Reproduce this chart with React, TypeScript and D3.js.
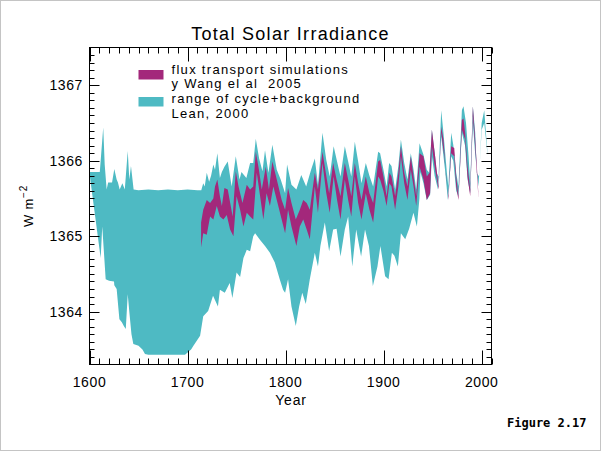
import React from "react";
import * as d3 from "d3";

const cyanUpper: [number, number][] = [
  [1600, 1365.85], [1610.5, 1365.85], [1614, 1366.44], [1615.5, 1365.95], [1617.5, 1365.62],
  [1619, 1365.71], [1623, 1365.71], [1625.3, 1365.89], [1627.7, 1365.75], [1629, 1365.71],
  [1630.8, 1365.62], [1633.5, 1365.7], [1636, 1365.62], [1639, 1366.13], [1640.6, 1365.75],
  [1642.3, 1365.93], [1645, 1365.62], [1650, 1365.61], [1660, 1365.62], [1670, 1365.61],
  [1680, 1365.62], [1690, 1365.61], [1700, 1365.62], [1710, 1365.61], [1714, 1365.61],
  [1716, 1365.7], [1717.5, 1365.66], [1719.6, 1365.84], [1722, 1365.72], [1724, 1365.8],
  [1726.3, 1365.95], [1728, 1365.88], [1730.4, 1366.1], [1733, 1365.77], [1735, 1365.85],
  [1737.6, 1365.92], [1741, 1365.99], [1745, 1365.66], [1749.2, 1366.06], [1753, 1365.75],
  [1755, 1365.85], [1760, 1365.77], [1763.8, 1365.97], [1767, 1365.97], [1769.6, 1366.29],
  [1773, 1366.03], [1776.4, 1365.86], [1779, 1366.14], [1782.5, 1365.84], [1786.5, 1366.21],
  [1791, 1365.88], [1795, 1365.75], [1799.5, 1365.57], [1801.5, 1365.95], [1806, 1365.68],
  [1811, 1365.62], [1816, 1365.81], [1821, 1365.66], [1826, 1365.88], [1829.8, 1366.03],
  [1833, 1365.68], [1837.6, 1366.37], [1841.5, 1366.01], [1845, 1365.79], [1849, 1366.19],
  [1852.5, 1365.99], [1856, 1365.79], [1860.4, 1366.19], [1863.8, 1365.99], [1867, 1365.79],
  [1870.6, 1366.25], [1874, 1365.99], [1877.4, 1365.7], [1881.8, 1365.97], [1885.5, 1365.8],
  [1889.3, 1365.66], [1894.4, 1366.12], [1896.4, 1366.1], [1899.8, 1365.88], [1903, 1365.66],
  [1905.6, 1365.97], [1908, 1365.93], [1911.7, 1365.62], [1915, 1365.93], [1917.6, 1366.28],
  [1921, 1365.97], [1924.3, 1365.75], [1927.7, 1366.1], [1930.5, 1365.88], [1933.2, 1365.62],
  [1936.6, 1366.23], [1940.6, 1366.08], [1944, 1365.88], [1946.5, 1365.84], [1949.2, 1366.41],
  [1952.5, 1366.06], [1954, 1365.84], [1956, 1365.79], [1958.7, 1366.67], [1961, 1366.37],
  [1964.5, 1365.84], [1966, 1365.66], [1968.9, 1366.37], [1971, 1366.21], [1974, 1365.84],
  [1976.3, 1365.66], [1979.8, 1366.67], [1981.4, 1366.72], [1984, 1366.5], [1986.6, 1366.06],
  [1988.3, 1365.7], [1991, 1366.72], [1993.4, 1366.37], [1995, 1365.84], [1997.4, 1365.79],
  [2000, 1366.5], [2002.6, 1366.67], [2004.6, 1366.32], [2006, 1366.1],
];

const cyanLower: [number, number][] = [
  [1600, 1365.83], [1611.4, 1364.71], [1613, 1365.13], [1616.5, 1364.43], [1620, 1364.41],
  [1625, 1364.4], [1625.3, 1364.35], [1627.7, 1364.3], [1630.5, 1363.9], [1633, 1363.86],
  [1635, 1363.81], [1637, 1363.77], [1639, 1364.23], [1640.6, 1364.0], [1642.8, 1363.7],
  [1644.7, 1363.57], [1650, 1363.55], [1654, 1363.5], [1656.6, 1363.44], [1660, 1363.43],
  [1680, 1363.43], [1697.4, 1363.43], [1703.6, 1363.5], [1706, 1363.55], [1712.8, 1363.68],
  [1716, 1363.94], [1721, 1364.01], [1726, 1364.21], [1731, 1364.07], [1733, 1364.29],
  [1738, 1364.25], [1743, 1364.38], [1745.7, 1364.18], [1750, 1364.52], [1753.6, 1364.46],
  [1757, 1364.71], [1760.4, 1364.82], [1763.8, 1364.8], [1767, 1365.0], [1768.9, 1365.04],
  [1774, 1364.95], [1779, 1364.87], [1784, 1364.78], [1789, 1364.65], [1794, 1364.43],
  [1797.4, 1364.29], [1799.5, 1364.25], [1802.5, 1364.43], [1806, 1364.07], [1810.4, 1363.81],
  [1813.8, 1364.07], [1817, 1364.25], [1820.6, 1364.1], [1824.7, 1364.43], [1829.8, 1364.78],
  [1833, 1364.6], [1835.5, 1364.87], [1840, 1365.18], [1844.4, 1364.8], [1848.5, 1365.09],
  [1852, 1365.1], [1856, 1364.73], [1860.4, 1365.09], [1863.8, 1365.26], [1868, 1364.6],
  [1872, 1365.09], [1877, 1364.73], [1881, 1365.09], [1885, 1364.87], [1889, 1364.34],
  [1893.7, 1364.6], [1896.7, 1364.87], [1901.5, 1364.47], [1905, 1364.43], [1908.4, 1364.78],
  [1911, 1364.74], [1914.5, 1364.6], [1917.6, 1365.04], [1922, 1364.96], [1926, 1365.1],
  [1930.4, 1365.31], [1933.9, 1365.13], [1936.5, 1365.5], [1937.5, 1365.85], [1940.6, 1365.7],
  [1944, 1365.48], [1947.4, 1365.55], [1949.2, 1366.06], [1952, 1365.8], [1955.4, 1365.62],
  [1958.7, 1366.32], [1962.6, 1365.88], [1965.5, 1365.48], [1968.9, 1366.06], [1971, 1366.0],
  [1974, 1365.6], [1976.3, 1365.53], [1979.8, 1366.37], [1983, 1366.2], [1985.6, 1365.75],
  [1988.3, 1365.57], [1991, 1366.5], [1993.4, 1366.08], [1996.7, 1365.66], [2000, 1366.41],
  [2002.6, 1366.5], [2004.6, 1366.25], [2006, 1366.08],
];

const magentaUpper: [number, number][] = [
  [1713.8, 1365.18], [1716, 1365.35], [1719.6, 1365.48], [1723, 1365.44], [1726.3, 1365.5],
  [1728, 1365.66], [1730.4, 1365.75], [1733, 1365.53], [1735, 1365.4], [1737.6, 1365.64],
  [1741, 1365.62], [1743.5, 1365.44], [1746, 1365.26], [1749.2, 1365.86], [1752, 1365.66],
  [1756, 1365.44], [1760.4, 1365.68], [1763.8, 1365.62], [1767, 1365.66], [1769.6, 1366.12],
  [1772.8, 1365.88], [1775.7, 1365.62], [1779.8, 1365.92], [1783, 1365.62], [1786.5, 1365.99],
  [1791, 1365.75], [1796, 1365.48], [1799.5, 1365.35], [1802.5, 1365.64], [1806, 1365.44],
  [1810.4, 1365.22], [1814.5, 1365.35], [1818, 1365.48], [1821.5, 1365.44], [1824.7, 1365.35],
  [1829.8, 1365.84], [1833, 1365.62], [1837.6, 1366.12], [1841, 1365.84], [1844.4, 1365.57],
  [1848.5, 1365.97], [1852, 1365.75], [1856, 1365.53], [1860.4, 1365.97], [1863.8, 1365.75],
  [1867, 1365.53], [1870.6, 1365.97], [1874, 1365.7], [1877.4, 1365.48], [1881.8, 1365.79],
  [1885.5, 1365.57], [1889.3, 1365.44], [1894.4, 1365.99], [1896.4, 1366.01], [1899.8, 1365.79],
  [1903, 1365.53], [1905.9, 1365.84], [1908, 1365.79], [1911.7, 1365.53], [1915, 1365.84],
  [1917.6, 1366.19], [1921, 1365.84], [1924.3, 1365.66], [1927.7, 1366.06], [1930.5, 1365.79],
  [1933.2, 1365.53], [1936.6, 1366.1], [1940.6, 1366.06], [1944, 1365.79], [1946.8, 1365.84],
  [1949.2, 1366.41], [1952.5, 1366.06], [1956, 1365.66], [1958.7, 1366.45], [1961, 1366.28],
  [1963.6, 1365.79], [1966, 1365.53], [1968.9, 1366.19], [1972, 1366.17], [1974, 1365.79],
  [1976.3, 1365.53], [1979.8, 1366.54], [1981.4, 1366.56], [1983.1, 1366.37], [1985.5, 1365.93],
  [1988.3, 1365.62], [1991, 1366.72], [1993.4, 1366.28], [1995.7, 1365.79], [1996.7, 1365.53],
];

const magentaLower: [number, number][] = [
  [1713.8, 1364.85], [1716, 1365.04], [1719.6, 1365.02], [1723, 1365.26], [1726.3, 1365.22],
  [1729.8, 1365.4], [1733, 1365.26], [1736.5, 1365.22], [1740, 1365.28], [1743.4, 1365.09],
  [1746.8, 1365.0], [1750, 1365.53], [1753.6, 1365.35], [1757, 1365.13], [1760.4, 1365.31],
  [1763.8, 1365.26], [1767, 1365.22], [1770.6, 1365.84], [1774, 1365.53], [1777.3, 1365.22],
  [1780.6, 1365.57], [1784, 1365.4], [1787.5, 1365.66], [1791, 1365.48], [1796, 1365.22],
  [1799.5, 1365.04], [1802.5, 1365.35], [1806, 1365.13], [1811, 1364.87], [1814.5, 1365.13],
  [1818, 1365.22], [1821.5, 1365.09], [1824.7, 1364.96], [1829.8, 1365.66], [1833, 1365.31],
  [1837.6, 1365.97], [1841.5, 1365.57], [1845, 1365.31], [1849, 1365.79], [1852.5, 1365.48],
  [1856, 1365.22], [1860.4, 1365.75], [1863.8, 1365.48], [1867, 1365.26], [1870.6, 1365.79],
  [1874, 1365.44], [1877.4, 1365.22], [1881.8, 1365.57], [1885.5, 1365.35], [1889.3, 1365.18],
  [1894.4, 1365.79], [1896.4, 1365.75], [1899.8, 1365.6], [1903, 1365.4], [1905.9, 1365.7],
  [1908, 1365.66], [1911.7, 1365.35], [1915, 1365.66], [1917.6, 1366.06], [1921, 1365.7],
  [1924.3, 1365.48], [1927.7, 1365.88], [1930.5, 1365.66], [1933.2, 1365.4], [1936.6, 1365.92],
  [1940.6, 1365.75], [1944, 1365.48], [1947.4, 1365.57], [1949.2, 1366.19], [1952.5, 1365.88],
  [1956, 1365.62], [1958.7, 1366.37], [1961.8, 1366.06], [1965.5, 1365.57], [1966, 1365.48],
  [1968.9, 1366.1], [1972, 1366.06], [1974, 1365.66], [1976.3, 1365.48], [1979.8, 1366.41],
  [1983.1, 1366.28], [1985.5, 1365.79], [1988.3, 1365.53], [1991, 1366.59], [1993.4, 1366.17],
  [1995.7, 1365.7], [1996.7, 1365.51],
];

const xMajorTicks = [1600, 1700, 1800, 1900, 2000];
const yMajorTicks = [1364, 1365, 1366, 1367];
const legendLabels = [
  ["flux transport simulations", "y Wang el al  2005"],
  ["range of cycle+background", "Lean, 2000"],
];

const CYAN = "#4EBAC3";
const MAGENTA = "#A3287B";
const FONT = "'Liberation Sans', Arial, sans-serif";

export default function App() {
  const W = 601, H = 451;
  const L = 89.5, R = 491.5, T = 47.5, B = 364.5;
  const x = d3.scaleLinear().domain([1600, 2010]).range([L, R]);
  const y = d3.scaleLinear().domain([1363.3, 1367.5]).range([B, T]);

  const line = d3.line<[number, number]>().x((d) => x(d[0])).y((d) => y(d[1]));
  const band = (up: [number, number][], lo: [number, number][]) =>
    (line(up.concat(lo.slice().reverse())) || "") + "Z";

  const xMinor = d3.range(1600, 2011, 10);
  const yMinor = d3.range(13634, 13675, 1).map((v) => v / 10);

  return (
    <svg width={W} height={H} style={{ position: "absolute", left: 0, top: 0 }}
      fontFamily={FONT}>
      <rect x={0} y={0} width={W} height={H} fill="#fff" />
      <rect x={0.5} y={0.5} width={W - 1} height={H - 1} fill="none" stroke="#c4c4c4" />

      <path d={band(cyanUpper, cyanLower)} fill={CYAN} />
      <path d={band(magentaUpper, magentaLower)} fill={MAGENTA} />

      {/* axes frame */}
      <rect x={L} y={T} width={R - L} height={B - T} fill="none" stroke="#000" strokeWidth={1} />
      {xMinor.map((v) => {
        const major = v % 100 === 0;
        const len = major ? 14 : 6;
        const px = Math.round(x(v)) + 0.5;
        return (
          <g key={"x" + v}>
            <line x1={px} x2={px} y1={B} y2={B - len} stroke="#000" />
            <line x1={px} x2={px} y1={T} y2={T + len} stroke="#000" />
          </g>
        );
      })}
      {yMinor.map((v) => {
        const major = Math.abs(v - Math.round(v)) < 1e-6;
        const len = major ? 10 : 5;
        const py = Math.round(y(v)) + 0.5;
        return (
          <g key={"y" + v}>
            <line x1={L} x2={L + len} y1={py} y2={py} stroke="#000" />
            <line x1={R} x2={R - len} y1={py} y2={py} stroke="#000" />
          </g>
        );
      })}
      {xMajorTicks.map((v) => (
        <text key={"xl" + v} x={x(v)} y={387} fontSize={14} letterSpacing={0.6}
          textAnchor="middle" fill="#000">{v}</text>
      ))}
      {yMajorTicks.map((v) => (
        <text key={"yl" + v} x={83} y={y(v) + 5} fontSize={14} letterSpacing={0.6}
          textAnchor="end" fill="#000">{v}</text>
      ))}

      <text x={290.5} y={40} fontSize={18} letterSpacing={1.3} textAnchor="middle" fill="#000">
        Total Solar Irradiance
      </text>
      <text x={291} y={405} fontSize={14} letterSpacing={0.8} textAnchor="middle" fill="#000">
        Year
      </text>
      <text transform={`translate(33, ${(T + B) / 2}) rotate(-90)`} fontSize={13}
        letterSpacing={0.8} textAnchor="middle" fill="#000">
        W m<tspan dy={-6} fontSize={10}>−2</tspan>
      </text>

      {/* legend */}
      <rect x={138.5} y={70} width={25} height={9.5} fill={MAGENTA} />
      <rect x={138.5} y={97} width={25} height={9.5} fill={CYAN} />
      {legendLabels.map((lines, i) =>
        lines.map((t, j) => (
          <text key={"lg" + i + j} x={171.5} y={[74.3, 88.3, 103.3, 117.7][i * 2 + j]}
            fontSize={13} letterSpacing={1.3} fill="#000" style={{ whiteSpace: "pre" }}>
            {t}
          </text>
        ))
      )}

      <text x={507} y={427.3} fontSize={12} fontWeight="bold"
        fontFamily="'DejaVu Sans Mono', monospace" fill="#000">Figure 2.17</text>
    </svg>
  );
}
